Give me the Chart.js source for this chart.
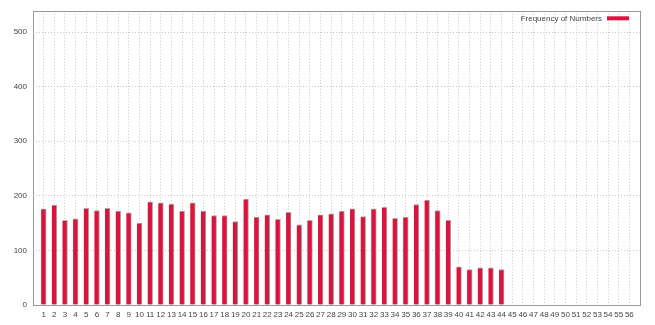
<!DOCTYPE html>
<html>
<head>
<meta charset="utf-8">
<script src="https://cdn.jsdelivr.net/npm/chart.js@4/dist/chart.umd.min.js"></script>
<style>
  html, body { margin: 0; padding: 0; background: #fff; }
  #wrap { width: 655px; height: 325px; }
</style>
</head>
<body>
<div id="wrap"><canvas id="freqChart" width="655" height="325"></canvas></div>
<script>
// numbers 1..56 with empty slots at both ends
const numbers = ['', 1, 2, 3, 4, 5, 6, 7, 8, 9, 10, 11, 12, 13, 14, 15, 16, 17, 18, 19, 20,
    21, 22, 23, 24, 25, 26, 27, 28, 29, 30, 31, 32, 33, 34, 35, 36, 37, 38, 39, 40,
    41, 42, 43, 44, 45, 46, 47, 48, 49, 50, 51, 52, 53, 54, 55, 56, ''];
const frequency = [null, 176, 183, 155, 158, 177, 173, 177, 172, 169, 150,
    189, 187, 185, 172, 187, 172, 164, 164, 153, 194,
    161, 165, 157, 170, 147, 155, 165, 167, 172, 176,
    162, 176, 179, 159, 161, 184, 192, 173, 155, 70,
    65, 68, 68, 65, 0, 0, 0, 0, 0, 0,
    0, 0, 0, 0, 0, 0, null];
const yTicks = [0, 100, 200, 300, 400, 500];
const seriesName = 'Frequency of Numbers';

const barRed = '#dc143c';
const textGrey = '#444';
const gridGrey = '#c8c8c8';
const frameGrey = '#9a9a9a';

// frame around the plot, like gnuplot
const framePlugin = {
    id: 'frame',
    afterDatasetsDraw(chart) {
        const a = chart.chartArea;
        const ctx = chart.ctx;
        ctx.save();
        ctx.strokeStyle = frameGrey;
        ctx.lineWidth = 1;
        ctx.strokeRect(Math.round(a.left) + 0.5, Math.round(a.top) + 0.5,
            Math.round(a.right - a.left), Math.round(a.bottom - a.top));
        ctx.restore();
    }
};

// key drawn inside the plot, top right
const keyPlugin = {
    id: 'key',
    afterDraw(chart) {
        const a = chart.chartArea;
        const ctx = chart.ctx;
        ctx.save();
        ctx.font = '8px "Liberation Sans", Arial, sans-serif';
        ctx.fillStyle = textGrey;
        ctx.textAlign = 'right';
        ctx.textBaseline = 'middle';
        const y = a.top + 7.5;
        ctx.fillText(seriesName, a.right - 38, y);
        ctx.fillStyle = barRed;
        ctx.fillRect(a.right - 33, y - 2, 22, 4);
        ctx.restore();
    }
};

const ctx = document.getElementById('freqChart').getContext('2d');
new Chart(ctx, {
    type: 'bar',
    data: {
        labels: numbers,
        datasets: [{
            label: seriesName,
            data: frequency,
            backgroundColor: barRed,
            borderColor: '#a8a8a8',
            borderWidth: { top: 1, right: 1, left: 0, bottom: 0 },
            borderSkipped: false,
            barThickness: 5
        }]
    },
    options: {
        responsive: false,
        animation: false,
        layout: { padding: { left: 0, right: 15, top: 10, bottom: 0 } },
        plugins: {
            legend: { display: false },
            tooltip: { enabled: false }
        },
        scales: {
            x: {
                offset: false,
                grid: {
                    offset: false,
                    color: gridGrey,
                    lineWidth: 1,
                    drawTicks: false
                },
                border: { display: false, dash: [1, 2] },
                ticks: {
                    autoSkip: false,
                    maxRotation: 0,
                    minRotation: 0,
                    padding: 5,
                    color: textGrey,
                    font: { family: '"Liberation Sans", Arial, sans-serif', size: 8 }
                },
                afterFit(scale) { scale.height = 20; }
            },
            y: {
                min: 0,
                max: 539,
                afterBuildTicks(scale) {
                    scale.ticks = yTicks.map(v => ({ value: v }));
                },
                grid: {
                    color: gridGrey,
                    lineWidth: 1,
                    drawTicks: false
                },
                border: { display: false, dash: [1, 2] },
                ticks: {
                    padding: 6,
                    color: textGrey,
                    font: { family: '"Liberation Sans", Arial, sans-serif', size: 8 }
                },
                afterFit(scale) { scale.width = 33; }
            }
        }
    },
    plugins: [framePlugin, keyPlugin]
});
</script>
</body>
</html>
